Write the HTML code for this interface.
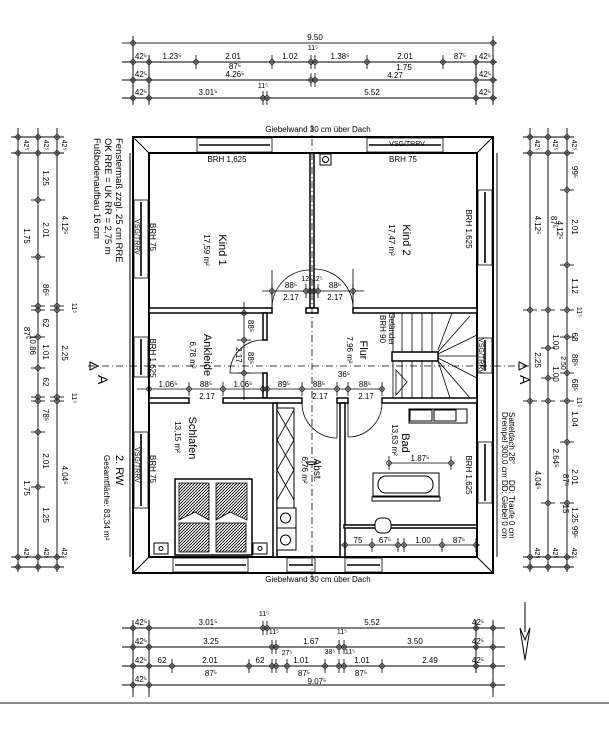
<!DOCTYPE html>
<html><head><meta charset="utf-8"><style>
html,body{margin:0;padding:0;background:#fff;}
svg{display:block;}
text{font-family:"Liberation Sans",sans-serif;font-size:8px;fill:#000;}
.s{font-size:7px;}
.r{font-size:9px;}
</style></head><body>
<svg width="609" height="741" viewBox="0 0 609 741" xmlns="http://www.w3.org/2000/svg">
<defs>
<g id="tv"><line x1="0" y1="-7" x2="0" y2="7" stroke="#000" stroke-width="0.8"/><circle r="2.3" fill="none" stroke="#000" stroke-width="0.8"/></g>
<g id="th"><line x1="-7" y1="0" x2="7" y2="0" stroke="#000" stroke-width="0.8"/><circle r="2.3" fill="none" stroke="#000" stroke-width="0.8"/></g>
</defs>
<rect width="609" height="741" fill="#fff"/>

<!-- TOP DIMENSIONS -->
<g stroke="#000" stroke-width="0.9">
<line x1="122" y1="43" x2="497" y2="43" stroke="#555" stroke-width="1.3"/>
<line x1="122" y1="62" x2="497" y2="62"/>
<line x1="122" y1="80" x2="497" y2="80"/>
<line x1="122" y1="98" x2="497" y2="98"/>
<line x1="133" y1="36" x2="133" y2="104"/><line x1="149" y1="55" x2="149" y2="104"/>
<line x1="476" y1="55" x2="476" y2="104"/><line x1="493" y1="36" x2="493" y2="104"/>
</g>
<use href="#tv" x="133" y="43"/><use href="#tv" x="493" y="43"/>
<use href="#tv" x="133" y="62"/><use href="#tv" x="149" y="62"/><use href="#tv" x="196" y="62"/><use href="#tv" x="272" y="62"/><use href="#tv" x="311" y="62"/><use href="#tv" x="315" y="62"/><use href="#tv" x="367" y="62"/><use href="#tv" x="443" y="62"/><use href="#tv" x="476" y="62"/><use href="#tv" x="493" y="62"/>
<use href="#tv" x="133" y="80"/><use href="#tv" x="149" y="80"/><use href="#tv" x="311" y="80"/><use href="#tv" x="315" y="80"/><use href="#tv" x="476" y="80"/><use href="#tv" x="493" y="80"/>
<use href="#tv" x="133" y="98"/><use href="#tv" x="149" y="98"/><use href="#tv" x="263" y="98"/><use href="#tv" x="267" y="98"/><use href="#tv" x="476" y="98"/><use href="#tv" x="493" y="98"/>
<text x="315" y="40" text-anchor="middle">9.50</text>
<text x="313" y="50" class="s" text-anchor="middle">11⁵</text>
<text x="141" y="59" text-anchor="middle">42⁵</text><text x="172" y="59" text-anchor="middle">1.23⁵</text><text x="233" y="59" text-anchor="middle">2.01</text><text x="290" y="59" text-anchor="middle">1.02</text><text x="340" y="59" text-anchor="middle">1.38⁵</text><text x="405" y="59" text-anchor="middle">2.01</text><text x="460" y="59" text-anchor="middle">87⁵</text><text x="485" y="59" text-anchor="middle">42⁵</text>
<text x="235" y="69" text-anchor="middle">87⁵</text><text x="235" y="77" text-anchor="middle">4.26⁵</text>
<text x="404" y="70" text-anchor="middle">1.75</text><text x="395" y="78" text-anchor="middle">4.27</text>
<text x="141" y="77" text-anchor="middle">42⁵</text><text x="485" y="77" text-anchor="middle">42⁵</text>
<text x="263" y="88" class="s" text-anchor="middle">11⁵</text>
<text x="141" y="95" text-anchor="middle">42⁵</text><text x="208" y="95" text-anchor="middle">3.01⁵</text><text x="372" y="95" text-anchor="middle">5.52</text><text x="485" y="95" text-anchor="middle">42⁵</text>

<!-- BOTTOM DIMENSIONS -->
<g stroke="#000" stroke-width="0.9">
<line x1="122" y1="628" x2="505" y2="628"/>
<line x1="122" y1="647" x2="505" y2="647"/>
<line x1="122" y1="666" x2="505" y2="666"/>
<line x1="122" y1="685" x2="505" y2="685"/>
<line x1="133" y1="620" x2="133" y2="697"/><line x1="149" y1="620" x2="149" y2="697"/>
<line x1="476" y1="620" x2="476" y2="673"/><line x1="493" y1="620" x2="493" y2="697"/>
</g>
<line x1="0" y1="703" x2="609" y2="703" stroke="#666" stroke-width="1.5"/>
<use href="#tv" x="133" y="628"/><use href="#tv" x="149" y="628"/><use href="#tv" x="263" y="628"/><use href="#tv" x="267" y="628"/><use href="#tv" x="476" y="628"/><use href="#tv" x="493" y="628"/>
<use href="#tv" x="133" y="647"/><use href="#tv" x="149" y="647"/><use href="#tv" x="272" y="647"/><use href="#tv" x="276" y="647"/><use href="#tv" x="339" y="647"/><use href="#tv" x="344" y="647"/><use href="#tv" x="476" y="647"/><use href="#tv" x="493" y="647"/>
<use href="#tv" x="133" y="666"/><use href="#tv" x="149" y="666"/><use href="#tv" x="172" y="666"/><use href="#tv" x="249" y="666"/><use href="#tv" x="272" y="666"/><use href="#tv" x="276" y="666"/><use href="#tv" x="287" y="666"/><use href="#tv" x="325" y="666"/><use href="#tv" x="339" y="666"/><use href="#tv" x="344" y="666"/><use href="#tv" x="382" y="666"/><use href="#tv" x="476" y="666"/><use href="#tv" x="493" y="666"/>
<use href="#tv" x="133" y="685"/><use href="#tv" x="149" y="685"/><use href="#tv" x="493" y="685"/>
<text x="141" y="625" text-anchor="middle">42⁵</text><text x="208" y="625" text-anchor="middle">3.01⁵</text><text x="264" y="616" class="s" text-anchor="middle">11⁵</text><text x="372" y="625" text-anchor="middle">5.52</text><text x="478" y="625" text-anchor="middle">42⁵</text>
<text x="141" y="644" text-anchor="middle">42⁵</text><text x="211" y="644" text-anchor="middle">3.25</text><text x="274" y="634" class="s" text-anchor="middle">11⁵</text><text x="311" y="644" text-anchor="middle">1.67</text><text x="342" y="634" class="s" text-anchor="middle">11⁵</text><text x="415" y="644" text-anchor="middle">3.50</text><text x="478" y="644" text-anchor="middle">42⁵</text>
<text x="141" y="663" text-anchor="middle">42⁵</text><text x="162" y="663" text-anchor="middle">62</text><text x="210" y="663" text-anchor="middle">2.01</text><text x="260" y="663" text-anchor="middle">62</text><text x="287" y="655" class="s" text-anchor="middle">27⁵</text><text x="301" y="663" text-anchor="middle">1.01</text><text x="330" y="654" class="s" text-anchor="middle">38⁵</text><text x="350" y="654" class="s" text-anchor="middle">11⁵</text><text x="362" y="663" text-anchor="middle">1.01</text><text x="430" y="663" text-anchor="middle">2.49</text><text x="478" y="663" text-anchor="middle">42⁵</text>
<text x="211" y="676" text-anchor="middle">87⁵</text><text x="304" y="676" text-anchor="middle">87⁵</text><text x="361" y="676" text-anchor="middle">87⁵</text>
<text x="141" y="682" text-anchor="middle">42⁵</text><text x="317" y="684" text-anchor="middle">9.07⁵</text>
<!-- north arrow -->
<line x1="525" y1="602" x2="525" y2="632" stroke="#000"/>
<path d="M520,628 L525,660 L530,628 L525,640 Z" fill="none" stroke="#000"/>

<!-- LEFT DIMENSIONS -->
<g stroke="#000" stroke-width="0.9">
<line x1="18" y1="128" x2="18" y2="572"/><line x1="38" y1="128" x2="38" y2="572"/><line x1="57" y1="128" x2="57" y2="572"/>
<line x1="12" y1="137" x2="64" y2="137"/><line x1="12" y1="153" x2="64" y2="153"/><line x1="12" y1="557" x2="64" y2="557"/><line x1="12" y1="567" x2="64" y2="567"/>
</g>
<use href="#th" x="18" y="137"/><use href="#th" x="38" y="137"/><use href="#th" x="57" y="137"/>
<use href="#th" x="18" y="153"/><use href="#th" x="38" y="153"/><use href="#th" x="57" y="153"/>
<use href="#th" x="38" y="200"/><use href="#th" x="38" y="257"/><use href="#th" x="38" y="306"/><use href="#th" x="38" y="310"/><use href="#th" x="57" y="306"/><use href="#th" x="57" y="310"/><use href="#th" x="38" y="337"/><use href="#th" x="38" y="368"/><use href="#th" x="38" y="397"/><use href="#th" x="38" y="401"/><use href="#th" x="57" y="397"/><use href="#th" x="57" y="401"/><use href="#th" x="38" y="432"/><use href="#th" x="38" y="487"/>
<use href="#th" x="18" y="557"/><use href="#th" x="38" y="557"/><use href="#th" x="57" y="557"/>
<use href="#th" x="18" y="567"/><use href="#th" x="38" y="567"/><use href="#th" x="57" y="567"/>
<g text-anchor="middle">
<text transform="translate(24,145) rotate(90)" class="s">42⁵</text><text transform="translate(44,145) rotate(90)" class="s">42⁵</text><text transform="translate(62,145) rotate(90)" class="s">42⁵</text>
<text transform="translate(24,236) rotate(90)">1.75</text><text transform="translate(24,333) rotate(90)">87⁵</text><text transform="translate(30,345) rotate(90)">10.86</text><text transform="translate(24,488) rotate(90)">1.75</text>
<text transform="translate(43,178) rotate(90)">1.25</text><text transform="translate(43,230) rotate(90)">2.01</text><text transform="translate(43,290) rotate(90)">86⁵</text><text transform="translate(43,323) rotate(90)">62</text><text transform="translate(43,352) rotate(90)">1.01</text><text transform="translate(43,382) rotate(90)">62</text><text transform="translate(43,415) rotate(90)">78⁵</text><text transform="translate(43,461) rotate(90)">2.01</text><text transform="translate(43,515) rotate(90)">1.25</text>
<text transform="translate(62,225) rotate(90)">4.12⁵</text><text transform="translate(72,308) rotate(90)" class="s">11⁵</text><text transform="translate(62,353) rotate(90)">2.25</text><text transform="translate(72,398) rotate(90)" class="s">11⁵</text><text transform="translate(62,475) rotate(90)">4.04⁵</text>
<text transform="translate(24,553) rotate(90)" class="s">42⁵</text><text transform="translate(44,553) rotate(90)" class="s">42⁵</text><text transform="translate(62,553) rotate(90)" class="s">42⁵</text>
</g>
<g text-anchor="start" class="r">
<text transform="translate(116,138) rotate(90)" style="font-size:9.5px">Fenstermaß zzgl. 25 cm RRE</text>
<text transform="translate(105,138) rotate(90)" style="font-size:9.5px">OK RRE = UK RR = 2,75 m</text>
<text transform="translate(94,138) rotate(90)" style="font-size:9.5px">Fußbodenaufbau 16 cm</text>
<text transform="translate(116,455) rotate(90)" style="font-size:11px">2. RW</text>
<text transform="translate(104,455) rotate(90)" style="font-size:8px">Gesamtfläche: 83,34 m²</text>
</g>
<path d="M90,362 L98,366 L90,370 Z" fill="none" stroke="#000"/>
<text transform="translate(98,375) rotate(90)" style="font-size:14px">A</text>

<!-- RIGHT DIMENSIONS -->
<g stroke="#000" stroke-width="0.9">
<line x1="530" y1="128" x2="530" y2="572"/><line x1="548" y1="128" x2="548" y2="572"/><line x1="567" y1="128" x2="567" y2="572"/>
<line x1="523" y1="137" x2="574" y2="137"/><line x1="523" y1="153" x2="574" y2="153"/><line x1="523" y1="557" x2="574" y2="557"/><line x1="523" y1="567" x2="574" y2="567"/>
</g>
<use href="#th" x="530" y="137"/><use href="#th" x="548" y="137"/><use href="#th" x="567" y="137"/>
<use href="#th" x="530" y="153"/><use href="#th" x="548" y="153"/><use href="#th" x="567" y="153"/>
<use href="#th" x="567" y="190"/><use href="#th" x="567" y="265"/><use href="#th" x="530" y="310"/><use href="#th" x="548" y="310"/><use href="#th" x="567" y="310"/><use href="#th" x="567" y="337"/><use href="#th" x="548" y="348"/><use href="#th" x="567" y="373"/><use href="#th" x="548" y="378"/><use href="#th" x="530" y="401"/><use href="#th" x="548" y="401"/><use href="#th" x="567" y="401"/><use href="#th" x="567" y="442"/><use href="#th" x="548" y="503"/><use href="#th" x="567" y="503"/>
<use href="#th" x="530" y="557"/><use href="#th" x="548" y="557"/><use href="#th" x="567" y="557"/>
<use href="#th" x="530" y="567"/><use href="#th" x="548" y="567"/><use href="#th" x="567" y="567"/>
<g text-anchor="middle">
<text transform="translate(535,145) rotate(90)" class="s">42⁵</text><text transform="translate(553,145) rotate(90)" class="s">42⁵</text><text transform="translate(572,145) rotate(90)" class="s">42⁵</text>
<text transform="translate(535,225) rotate(90)">4.12⁵</text><text transform="translate(535,360) rotate(90)">2.25</text><text transform="translate(535,480) rotate(90)">4.04⁵</text>
<text transform="translate(551,222) rotate(90)">87⁵</text><text transform="translate(557,230) rotate(90)">4.12⁵</text><text transform="translate(553,342) rotate(90)">1.00</text><text transform="translate(561,363) rotate(90)" class="s">2.50</text><text transform="translate(553,374) rotate(90)">1.00</text><text transform="translate(553,458) rotate(90)">2.64⁵</text><text transform="translate(563,480) rotate(90)">87⁵</text><text transform="translate(563,509) rotate(90)">15</text>
<text transform="translate(572,172) rotate(90)">99⁵</text><text transform="translate(572,227) rotate(90)">2.01</text><text transform="translate(572,286) rotate(90)">1.12</text><text transform="translate(577,312) rotate(90)" class="s">11⁵</text><text transform="translate(572,337) rotate(90)">68</text><text transform="translate(572,360) rotate(90)">88⁵</text><text transform="translate(572,385) rotate(90)">68⁵</text><text transform="translate(577,402) rotate(90)" class="s">11⁵</text><text transform="translate(572,419) rotate(90)">1.04</text><text transform="translate(572,477) rotate(90)">2.01</text><text transform="translate(572,515) rotate(90)">1.25</text><text transform="translate(572,532) rotate(90)">99⁵</text>
<text transform="translate(535,553) rotate(90)" class="s">42⁵</text><text transform="translate(553,553) rotate(90)" class="s">42⁵</text><text transform="translate(572,553) rotate(90)" class="s">42⁵</text>
</g>
<g text-anchor="start" style="font-size:8px">
<text transform="translate(509,412) rotate(90)" style="font-size:8px">Satteldach 28°</text>
<text transform="translate(502,412) rotate(90)" style="font-size:8px">Drempel 300.0 cm</text>
<text transform="translate(509,480) rotate(90)" style="font-size:8px">DD: Traufe 0 cm</text>
<text transform="translate(502,480) rotate(90)" style="font-size:8px">DD: Giebel 0 cm</text>
</g>
<path d="M519,362 L527,366 L519,370 Z" fill="none" stroke="#000"/>
<text transform="translate(520,375) rotate(90)" style="font-size:14px">A</text>

<!-- OUTER WALL -->
<path d="M133,137 H493 V573 H133 Z M149,153 V557 H477 V153 Z" fill="#fff" fill-rule="evenodd" stroke="#000" stroke-width="2"/>
<g stroke="#000" stroke-width="1">
<line x1="133" y1="137" x2="149" y2="153"/><line x1="493" y1="137" x2="477" y2="153"/>
<line x1="133" y1="573" x2="149" y2="557"/><line x1="493" y1="573" x2="477" y2="557"/>
<line x1="130" y1="153" x2="130" y2="557"/><line x1="497" y1="153" x2="497" y2="557"/>
</g>
<!-- windows -->
<g fill="#fff" stroke="#000" stroke-width="0.8">
<rect x="197" y="138" width="75" height="14"/><rect x="367" y="138" width="76" height="14"/>
<rect x="173" y="558" width="75" height="14"/><rect x="287" y="558" width="28" height="14"/><rect x="345" y="558" width="37" height="14"/>
<rect x="134" y="200" width="14" height="78"/><rect x="134" y="337" width="14" height="40"/><rect x="134" y="432" width="14" height="76"/>
<rect x="478" y="190" width="14" height="75"/><rect x="478" y="338" width="14" height="35"/><rect x="478" y="442" width="14" height="61"/>
</g>
<g stroke="#000" stroke-width="1.6">
<line x1="199" y1="145" x2="270" y2="145"/><line x1="369" y1="145" x2="441" y2="145"/>
<line x1="175" y1="565" x2="246" y2="565"/><line x1="289" y1="565" x2="313" y2="565"/><line x1="347" y1="565" x2="380" y2="565"/>
<line x1="141" y1="202" x2="141" y2="276"/><line x1="141" y1="339" x2="141" y2="375"/><line x1="141" y1="434" x2="141" y2="506"/>
<line x1="485" y1="192" x2="485" y2="263"/><line x1="485" y1="340" x2="485" y2="371"/><line x1="485" y1="444" x2="485" y2="501"/>
</g>

<!-- INTERIOR WALLS -->
<g fill="#fff" stroke="#000" stroke-width="1.5">
<rect x="310" y="153" width="4" height="155"/>
<rect x="149" y="308" width="123" height="5"/>
<rect x="353" y="308" width="124" height="5"/>
<rect x="306" y="308" width="12" height="5"/>
<rect x="263" y="313" width="4" height="27"/>
<rect x="263" y="373" width="4" height="25"/>
<rect x="149" y="398" width="40" height="5"/>
<rect x="223" y="398" width="79" height="5"/>
<rect x="337" y="398" width="11" height="5"/>
<rect x="382" y="398" width="95" height="5"/>
<rect x="273" y="403" width="4" height="154"/>
<rect x="340" y="403" width="5" height="154"/>
<rect x="344" y="525" width="133" height="3"/>
</g>
<!-- door arcs -->
<g fill="none" stroke="#000" stroke-width="0.8">
<path d="M272,308 A38,38 0 0 1 310,270"/><line x1="272" y1="270" x2="272" y2="308"/>
<path d="M353,308 A39,39 0 0 0 314,269"/><line x1="353" y1="269" x2="353" y2="308"/>
<path d="M263,340 A33,33 0 0 0 230,373 L263,373"/>
<path d="M302,403 A35,35 0 0 0 337,438"/><line x1="337" y1="403" x2="337" y2="438"/>
<path d="M382,403 A34,34 0 0 1 348,437"/><line x1="348" y1="403" x2="348" y2="437"/>
</g>
<!-- center lines -->
<g stroke="#000" stroke-width="0.8" stroke-dasharray="7,3,1,3">
<line x1="312" y1="125" x2="312" y2="580"/>
<line x1="88" y1="366" x2="530" y2="366"/>
</g>

<!-- STAIRS -->
<g fill="none" stroke="#000" stroke-width="0.8">
<rect x="393" y="313" width="84" height="85"/>
<rect x="392" y="352" width="46" height="9" fill="#fff" stroke-width="1.5"/>
<line x1="402" y1="313" x2="402" y2="352"/><line x1="412" y1="313" x2="412" y2="352"/><line x1="422" y1="313" x2="422" y2="352"/><line x1="432" y1="313" x2="432" y2="352"/>
<line x1="402" y1="361" x2="402" y2="398"/><line x1="412" y1="361" x2="412" y2="398"/><line x1="422" y1="361" x2="422" y2="398"/><line x1="432" y1="361" x2="432" y2="398"/>
<line x1="438" y1="352" x2="470" y2="316"/><line x1="438" y1="354" x2="477" y2="335"/><line x1="438" y1="356" x2="477" y2="356"/><line x1="438" y1="358" x2="477" y2="378"/><line x1="438" y1="361" x2="470" y2="398"/><line x1="438" y1="350" x2="452" y2="313"/><line x1="438" y1="361" x2="450" y2="398"/>
<path d="M396,395 L396,370 L407,382 Z"/>
</g>

<!-- FIXTURES -->
<g fill="#fff" stroke="#000" stroke-width="1">
<rect x="320" y="154" width="11" height="11"/><circle cx="325.5" cy="159.5" r="3"/>
<rect x="409" y="409" width="58" height="14"/><rect x="410" y="410" width="22" height="11"/><rect x="434" y="410" width="22" height="11"/>
<rect x="373" y="473" width="66" height="23"/><rect x="378" y="476" width="55" height="17" rx="8"/>
<rect x="372" y="497" width="68" height="4"/>
<rect x="375" y="518" width="16" height="15" rx="6"/>
<rect x="277" y="408" width="17" height="120"/>
<rect x="277" y="508" width="19" height="20"/><circle cx="285.5" cy="518" r="5"/>
<rect x="277" y="528" width="19" height="22"/><circle cx="285.5" cy="540" r="5"/>
<path d="M306,462 A6,6 0 0 0 316,462 Z"/>
<rect x="175" y="479" width="77" height="76" stroke-width="1.5"/>
<rect x="154" y="543" width="14" height="11"/><circle cx="161" cy="548.5" r="2"/>
<rect x="253" y="543" width="14" height="11"/><circle cx="260" cy="548.5" r="2"/>
</g>
<g stroke="#000" stroke-width="0.8">
<line x1="277" y1="410" x2="294" y2="440"/><line x1="294" y1="410" x2="277" y2="440"/>
<line x1="277" y1="440" x2="294" y2="470"/><line x1="294" y1="440" x2="277" y2="470"/>
<line x1="277" y1="470" x2="294" y2="500"/><line x1="294" y1="470" x2="277" y2="500"/>
</g>
<pattern id="hat" width="3" height="3" patternUnits="userSpaceOnUse"><path d="M0,3 L3,0" stroke="#000" stroke-width="0.9"/></pattern>
<g fill="url(#hat)" stroke="#000" stroke-width="0.8">
<path d="M179,483 H209 V520 L195,512 L179,520 Z"/><path d="M216,483 H247 V520 L230,512 L216,520 Z"/>
<rect x="179" y="523" width="30" height="29"/><rect x="216" y="523" width="30" height="29"/>
</g>

<!-- ROOM TEXT -->
<text x="318" y="132" text-anchor="middle">Giebelwand 30 cm über Dach</text>
<text x="318" y="582" text-anchor="middle">Giebelwand 30 cm über Dach</text>
<text x="407" y="146" text-anchor="middle" class="s">VSG/TRRV</text>
<text x="227" y="162" text-anchor="middle">BRH 1,625</text>
<text x="403" y="162" text-anchor="middle">BRH 75</text>
<g text-anchor="middle">
<text transform="translate(219,250) rotate(90)" class="r" style="font-size:11px">Kind 1</text>
<text transform="translate(204,250) rotate(90)">17,59 m²</text>
<text transform="translate(403,240) rotate(90)" class="r" style="font-size:11px">Kind 2</text>
<text transform="translate(389,240) rotate(90)">17,47 m²</text>
<text transform="translate(150,237) rotate(90)">BRH 75</text>
<text transform="translate(466,229) rotate(90)">BRH 1,625</text>
<text transform="translate(204,355) rotate(90)" class="r" style="font-size:11px">Ankleide</text>
<text transform="translate(190,355) rotate(90)">6,78 m²</text>
<text transform="translate(150,358) rotate(90)">BRH 1,625</text>
<text transform="translate(360,350) rotate(90)" class="r" style="font-size:11px">Flur</text>
<text transform="translate(347,350) rotate(90)">7,96 m²</text>
<text transform="translate(380,329) rotate(90)">BRH 90</text>
<text transform="translate(389,329) rotate(90)">Geländer</text>
<text transform="translate(189,438) rotate(90)" class="r" style="font-size:11px">Schlafen</text>
<text transform="translate(175,437) rotate(90)">13,15 m²</text>
<text transform="translate(150,469) rotate(90)">BRH 75</text>
<text transform="translate(135,465) rotate(90)" class="s">VSG/TRRV</text>
<text transform="translate(135,237) rotate(90)" class="s">VSG/TRRV</text>
<text transform="translate(479,356) rotate(90)" class="s">VSG/TRRV</text>
<text transform="translate(314,470) rotate(90)" class="r" style="font-size:10px">Abst.</text>
<text transform="translate(302,470) rotate(90)">6,76 m²</text>
<text transform="translate(402,443) rotate(90)" class="r" style="font-size:11px">Bad</text>
<text transform="translate(392,440) rotate(90)">13,63 m²</text>
<text transform="translate(466,475) rotate(90)">BRH 1,625</text>
<text transform="translate(236,355) rotate(90)">2.17</text>
</g>
<!-- interior dims -->
<g stroke="#000" stroke-width="0.8">
<line x1="262" y1="291" x2="364" y2="291"/>
<line x1="137" y1="389" x2="384" y2="389"/>
<line x1="244" y1="302" x2="244" y2="400"/>
<line x1="388" y1="463" x2="455" y2="463"/>
<line x1="340" y1="545" x2="480" y2="545"/>
</g>
<use href="#tv" x="272" y="291"/><use href="#tv" x="306" y="291"/><use href="#tv" x="310" y="291"/><use href="#tv" x="314" y="291"/><use href="#tv" x="318" y="291"/><use href="#tv" x="353" y="291"/>
<use href="#tv" x="149" y="389"/><use href="#tv" x="189" y="389"/><use href="#tv" x="223" y="389"/><use href="#tv" x="263" y="389"/><use href="#tv" x="267" y="389"/><use href="#tv" x="302" y="389"/><use href="#tv" x="337" y="389"/><use href="#tv" x="348" y="389"/><use href="#tv" x="382" y="389"/>
<use href="#th" x="244" y="313"/><use href="#th" x="244" y="340"/><use href="#th" x="244" y="373"/>
<use href="#tv" x="389" y="463"/><use href="#tv" x="451" y="463"/>
<use href="#tv" x="345" y="545"/><use href="#tv" x="372" y="545"/><use href="#tv" x="398" y="545"/><use href="#tv" x="404" y="545"/><use href="#tv" x="442" y="545"/><use href="#tv" x="476" y="545"/>
<g text-anchor="middle">
<text x="291" y="288">88⁵</text><text x="291" y="300">2.17</text><text x="335" y="288">88⁵</text><text x="335" y="300">2.17</text><text x="312" y="281" class="s">12⁵12⁵</text>
<text x="168" y="387">1.06⁵</text><text x="206" y="387">88⁵</text><text x="207" y="399">2.17</text><text x="243" y="387">1.06⁵</text><text x="284" y="387">89⁵</text><text x="319" y="387">88⁵</text><text x="320" y="399">2.17</text><text x="365" y="387">88⁵</text><text x="366" y="399">2.17</text><text x="344" y="377">36⁵</text>
<text transform="translate(248,326) rotate(90)">88⁵</text><text transform="translate(248,358) rotate(90)">88⁵</text>
<text x="420" y="461">1.87⁵</text>
<text x="358" y="543">75</text><text x="385" y="543">67⁵</text><text x="423" y="543">1.00</text><text x="459" y="543">87⁵</text>
</g>
</svg>
</body></html>
